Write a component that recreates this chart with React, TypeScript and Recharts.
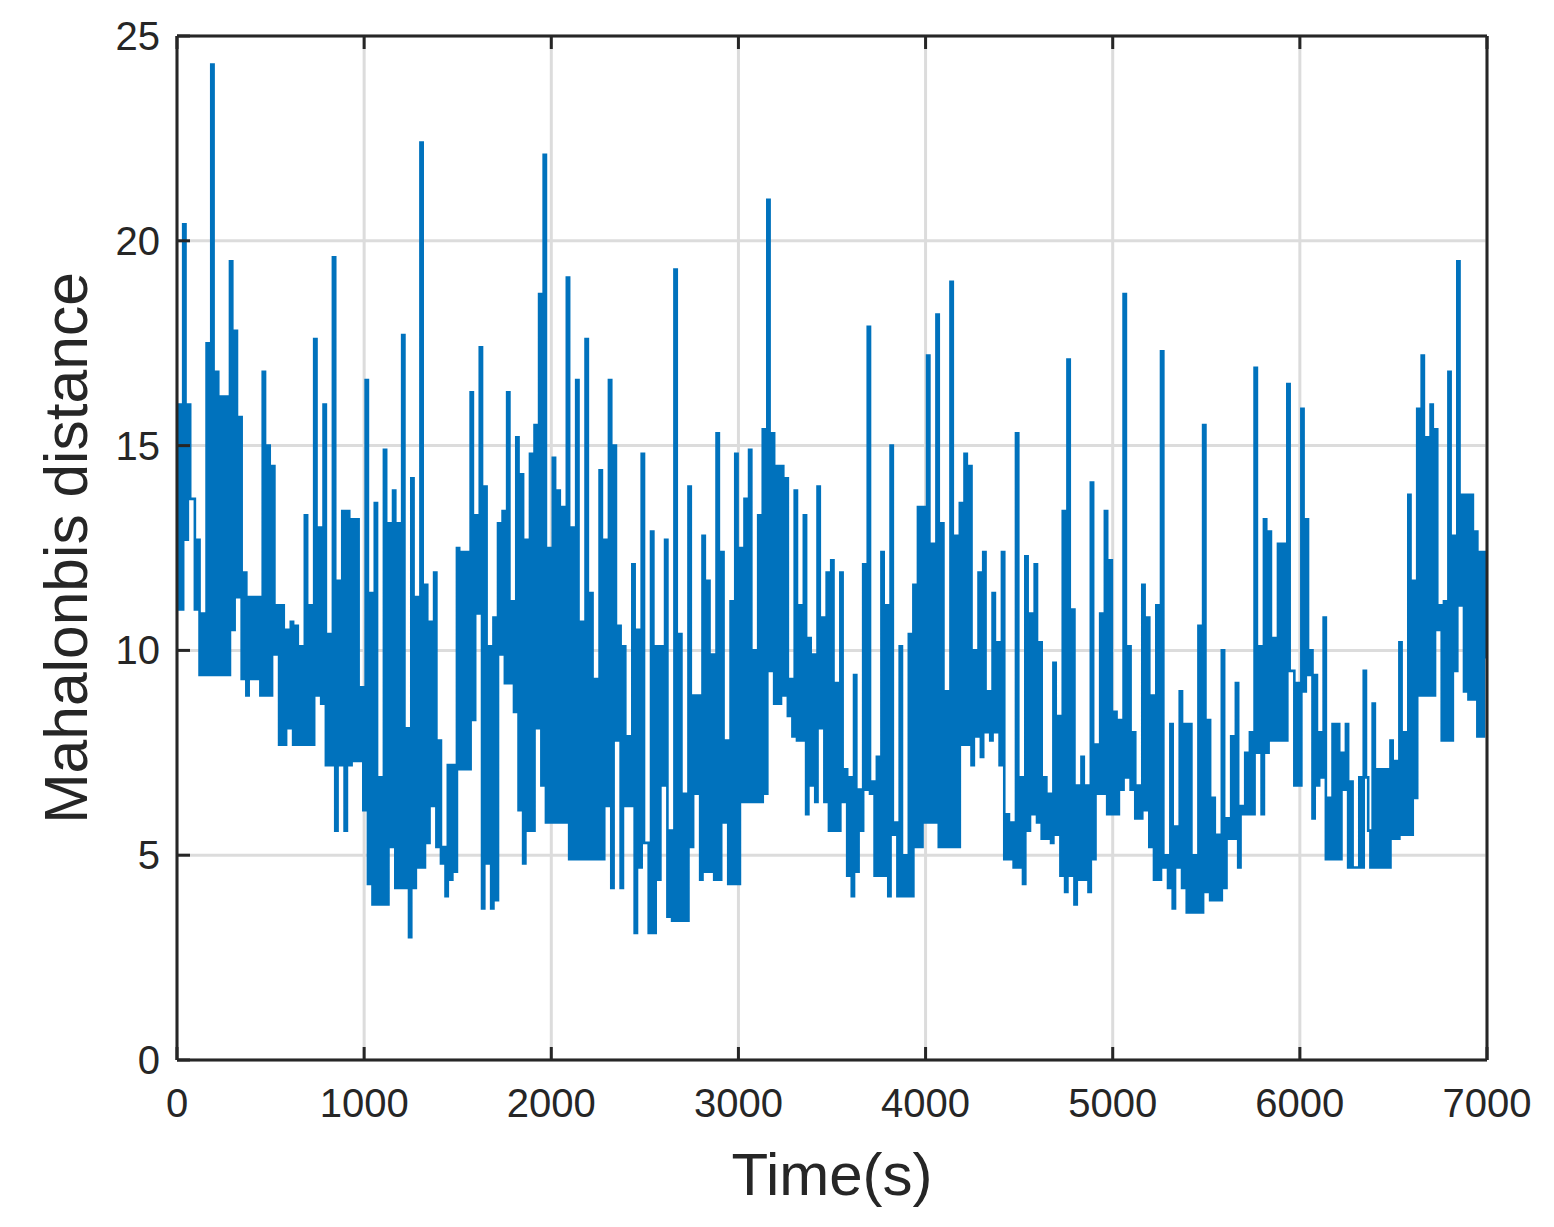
import React from 'react';
import { LineChart, Line, XAxis, YAxis, CartesianGrid } from 'recharts';

const xTicks = [0, 1000, 2000, 3000, 4000, 5000, 6000, 7000];
const yTicks = [0, 5, 10, 15, 20, 25];
const xTitle = 'Time(s)';
const yTitle = 'Mahalonbis distance';

// Each block covers 1000 s and lists alternating peak / trough readings.
const block0 = [16,11, 20.4,12.7, 16,13.7, 13.7,11, 12.7,9.4, 10.9,9.4, 17.5,9.4, 24.3,9.4, 16.8,9.4, 16.2,9.4, 16.2,9.4, 19.5,10.5, 17.8,11.3, 15.7,9.3, 11.9,8.9, 11.3,9.3, 11.3,9.3, 11.3,8.9, 16.8,8.9, 15,8.9, 14.5,9.9, 11.1,7.7, 11.1,7.7, 10.5,8.1, 10.7,7.7, 10.6,7.7, 10.1,7.7, 13.3,7.7, 11.1,7.7, 17.6,8.9, 13,8.7, 16,7.2, 10.4,7.2, 19.6,5.6, 11.7,7.2, 13.4,5.6, 13.4,7.2, 13.2,7.3, 13.2,7.3, 9.1,6.1];
const block1 = [16.6,4.3, 11.4,3.8, 13.6,3.8, 6.9,3.8, 14.9,3.8, 13.1,5.2, 13.9,4.2, 13.1,4.2, 17.7,4.2, 8.1,3, 14.2,4.2, 11.3,4.7, 22.4,4.7, 11.6,5.3, 10.7,6.2, 11.9,5.2, 7.8,4.8, 5.2,4, 7.2,4.4, 7.2,4.6, 12.5,7.1, 12.4,7.1, 12.4,7.1, 16.3,8.3, 13.3,10.9, 17.4,3.7, 14,4.8, 10.1,3.7, 10.8,3.9, 13.1,9.9, 13.4,9.2, 16.3,9.2, 11.2,8.5, 15.2,6.1, 14.3,4.8, 12.7,5.6, 14.8,5.6, 15.5,8.1, 18.7,6.7, 22.1,5.8, 12.5,5.8];
const block2 = [14.7,5.8, 13.9,5.8, 13.5,5.8, 19.1,4.9, 13,4.9, 16.6,4.9, 10.7,4.9, 17.6,4.9, 11.4,4.9, 9.3,4.9, 14.4,4.9, 12.7,6.2, 16.6,4.2, 15,7.8, 10.6,4.2, 10.1,6.2, 7.9,6.2, 12.1,3.1, 10.5,4.7, 14.8,5.3, 5.3,3.1, 12.9,3.1, 10.1,4.4, 10.1,6.7, 12.7,3.5, 5.6,3.4, 19.3,3.4, 10.4,3.4, 6.5,3.4, 14,5.2, 8.9,6.5, 8.9,4.4, 12.8,4.6, 11.7,4.6, 9.9,4.4, 15.3,4.4, 12.4,5.8, 7.8,4.3, 11.2,4.3, 14.8,4.3];
const block3 = [12.5,6.3, 13.7,6.3, 14.9,6.3, 10,6.3, 13.3,6.3, 15.4,6.5, 21,9.5, 15.3,8.7, 14.5,8.7, 14.5,8.9, 14.2,8.4, 9.3,7.9, 13.9,7.8, 11.1,7.8, 13.3,6, 10.3,6.7, 9.9,6.3, 14,8.1, 10.8,6.3, 11.9,5.6, 12.2,5.6, 9.2,5.6, 11.9,6.3, 7.1,4.5, 6.9,4, 9.4,4.6, 6.6,5.6, 12.1,6.6, 17.9,6.5, 6.8,4.5, 7.4,4.5, 12.4,4.5, 11.1,4, 15,5.5, 5.8,4, 10.1,4, 5,4, 10.4,4, 11.6,5.2, 13.5,5.2, 13.5,5.8];
const block4 = [17.2,5.8, 12.6,5.8, 18.2,5.2, 13.1,5.2, 9,5.2, 19,5.2, 12.8,5.2, 13.6,7.7, 14.8,7.7, 14.5,7.2, 10,7.9, 11.9,7.4, 12.4,8, 9,7.8, 11.4,8, 10.2,7.2, 12.4,4.9, 6,4.9, 5.8,4.7, 15.3,4.7, 6.9,4.3, 12.3,5.6, 10.9,6, 12.1,5.8, 10.2,5.4, 6.9,5.4, 6.5,5.3, 9.7,5.5, 8.4,4.5, 13.4,4.1, 17.1,4.5, 11,3.8, 6.7,4.4, 7.4,4.4, 6.7,4.1, 14.1,4.9, 7.7,6.5, 10.9,6.5, 13.4,6, 12.2,6];
const block5 = [8.5,6, 8.3,6.6, 18.7,6.9, 10.1,6.6, 8,5.9, 6.7,5.9, 11.6,6.1, 10.8,5.2, 8.9,4.4, 11.1,4.4, 17.3,4.7, 5,4.2, 8.2,3.7, 5.7,4.7, 9,4.2, 8.2,3.6, 8.2,3.6, 5,3.6, 10.6,3.6, 15.5,4.1, 8.3,3.9, 6.4,3.9, 5.5,3.9, 10,4.2, 5.9,5.4, 7.9,5.4, 9.2,4.7, 6.2,6, 7.5,6, 8,6, 16.9,7.5, 10.1,6, 13.2,7.5, 12.9,7.8, 10.3,7.8, 12.6,7.8, 12.6,7.8, 16.5,9.5, 9.5,6.7, 9.2,6.7];
const block6 = [15.9,9, 13.2,9.4, 10,5.9, 9.4,6.7, 8,6.9, 10.8,4.9, 6.4,4.9, 8.2,4.9, 8.2,4.9, 7.5,6.6, 8.2,4.7, 6.8,4.7, 4.7,4.7, 6.9,4.7, 9.5,6.9, 5.6,4.7, 8.7,4.7, 7.1,4.7, 7.1,4.7, 7.1,4.7, 7.8,5.4, 7.3,5.4, 10.2,5.5, 8,5.5, 13.8,5.5, 11.7,6.4, 15.9,8.9, 17.2,8.9, 15.2,8.9, 16,8.9, 15.4,10.5, 11.1,7.8, 11.2,7.8, 16.8,7.8, 12.8,9.5, 19.5,11.1, 13.8,9, 13.8,8.8, 13.8,8.8, 12.9,7.9, 12.4,7.9, 12.4,9.8];
const blocks = [block0, block1, block2, block3, block4, block5, block6];

const table = [
  { t: 0, d: block0[1] },
  ...blocks.flatMap((values, b) => {
    const step = 1000 / values.length;
    return values.map((v, i) => ({ t: b * 1000 + i * step + 8, d: v }));
  }),
];

const ink = '#262626';
const font = '"Liberation Sans", Arial, sans-serif';
const tickLen = 13;

const BottomTick = (p: any) => (
  <g>
    <line x1={p.x} x2={p.x} y1={p.y} y2={p.y - tickLen} stroke={ink} strokeWidth={3} />
    <text x={p.x} y={p.y + 57} textAnchor="middle" fontSize={40} fontFamily={font} fill={ink}>{p.payload.value}</text>
  </g>
);
const TopTick = (p: any) => (
  <line x1={p.x} x2={p.x} y1={p.y} y2={p.y + tickLen} stroke={ink} strokeWidth={3} />
);
const LeftTick = (p: any) => (
  <g>
    <line x1={p.x} x2={p.x + tickLen} y1={p.y} y2={p.y} stroke={ink} strokeWidth={3} />
    <text x={p.x - 17} y={p.y + 14} textAnchor="end" fontSize={40} fontFamily={font} fill={ink}>{p.payload.value}</text>
  </g>
);
const RightTick = (p: any) => (
  <line x1={p.x} x2={p.x - tickLen} y1={p.y} y2={p.y} stroke={ink} strokeWidth={3} />
);

export default function App() {
  return (
    <div style={{ position: 'absolute', left: 0, top: 0, width: 1554, height: 1227, background: '#fff' }}>
      <LineChart width={1554} height={1227} data={table} margin={{ top: 0, right: 0, bottom: 0, left: 0 }}>
        <CartesianGrid stroke="#dcdcdc" strokeWidth={3} horizontalValues={yTicks} verticalValues={xTicks} />
        <Line dataKey="d" type="stepAfter" stroke="#0072BD" strokeWidth={2.6} dot={false} activeDot={false} isAnimationActive={false} />
        <XAxis dataKey="t" type="number" domain={[0, 7000]} ticks={xTicks} height={167} interval={0}
          stroke={ink} strokeWidth={3} tickLine={false} tickSize={0} tick={BottomTick} tickMargin={0}
          label={{ value: xTitle, position: 'insideBottom', offset: 32, style: { fontSize: 60, fontFamily: font, fill: ink } }} />
        <XAxis xAxisId="top" orientation="top" dataKey="t" type="number" domain={[0, 7000]} ticks={xTicks} height={36} interval={0}
          stroke={ink} strokeWidth={3} tickLine={false} tickSize={0} tick={TopTick} tickMargin={0} />
        <YAxis type="number" domain={[0, 25]} ticks={yTicks} width={177} interval={0}
          stroke={ink} strokeWidth={3} tickLine={false} tickSize={0} tick={LeftTick} tickMargin={0}
          label={{ value: yTitle, angle: -90, position: 'insideLeft', offset: 66, style: { fontSize: 60.5, fontFamily: font, fill: ink, textAnchor: 'middle' } }} />
        <YAxis yAxisId="right" orientation="right" type="number" domain={[0, 25]} ticks={yTicks} width={67} interval={0}
          stroke={ink} strokeWidth={3} tickLine={false} tickSize={0} tick={RightTick} tickMargin={0} />
      </LineChart>
    </div>
  );
}
